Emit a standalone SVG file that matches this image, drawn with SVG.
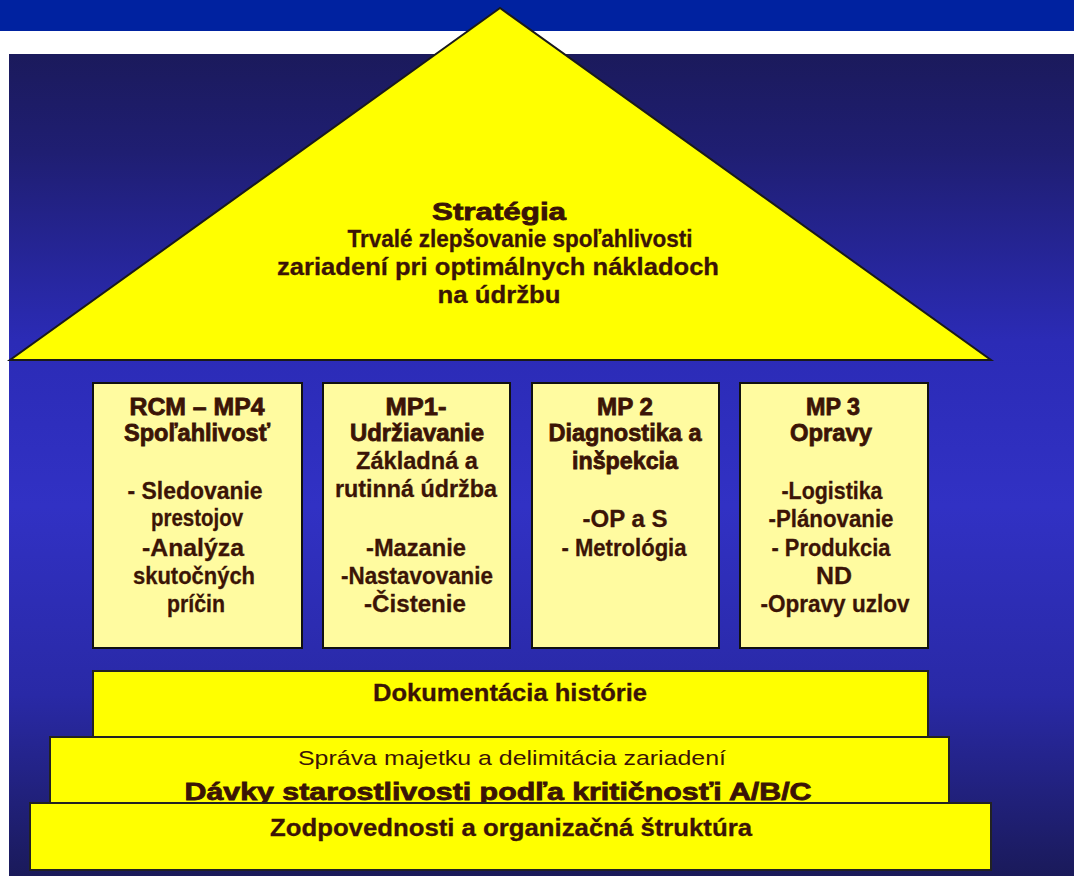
<svg xmlns="http://www.w3.org/2000/svg" width="1077" height="876" viewBox="0 0 1077 876">
  <defs>
    <linearGradient id="panelGrad" x1="0" y1="0" x2="0" y2="1">
      <stop offset="0" stop-color="#1B1A5C"/>
      <stop offset="0.12" stop-color="#1F1E72"/>
      <stop offset="0.35" stop-color="#2B2BB6"/>
      <stop offset="0.55" stop-color="#3131C4"/>
      <stop offset="0.78" stop-color="#2929A6"/>
      <stop offset="1" stop-color="#1A1A5A"/>
    </linearGradient>
    <style>
      .t { font-family: "Liberation Sans Narrow", "Liberation Sans", Arial, sans-serif; fill: #3B1406; text-anchor: middle; }
      .h { font-size: 24px; font-weight: bold; stroke: #3B1406; stroke-width: 0.8; }
      .b { font-size: 24px; font-weight: bold; stroke: #3B1406; stroke-width: 0.3; }
      .pillar { fill: #FFFBA0; stroke: #111; stroke-width: 2; }
      .tier { fill: #FFFF00; stroke: #222; stroke-width: 2; }
    </style>
  </defs>

  <!-- page background -->
  <rect x="0" y="0" width="1077" height="876" fill="#FFFFFF"/>
  <rect x="0" y="0" width="1074" height="31" fill="#0022A0"/>
  <rect x="9" y="54" width="1065" height="822" fill="url(#panelGrad)"/>

  <!-- roof -->
  <g id="roof">
    <polygon points="500,8 10,360 991,360" fill="#FFFF00" stroke="#1A1A1A" stroke-width="2" stroke-linejoin="miter"/>
    <text class="t h" x="499" y="220" font-size="25" textLength="134" lengthAdjust="spacingAndGlyphs">Stratégia</text>
    <text class="t b" x="520" y="247" textLength="345" lengthAdjust="spacingAndGlyphs">Trvalé zlepšovanie spoľahlivosti</text>
    <text class="t b" x="498" y="275" textLength="442" lengthAdjust="spacingAndGlyphs">zariadení pri optimálnych nákladoch</text>
    <text class="t b" x="499" y="303" textLength="123" lengthAdjust="spacingAndGlyphs">na údržbu</text>
  </g>

  <!-- pillars -->
  <g id="pillar-rcm">
    <rect class="pillar" x="93" y="383" width="209" height="265"/>
    <text class="t h" x="197" y="415" textLength="135" lengthAdjust="spacingAndGlyphs">RCM – MP4</text>
    <text class="t h" x="197" y="441" textLength="146" lengthAdjust="spacingAndGlyphs">Spoľahlivosť</text>
    <text class="t b" x="195" y="499" textLength="135" lengthAdjust="spacingAndGlyphs">- Sledovanie</text>
    <text class="t b" x="197" y="526" textLength="92" lengthAdjust="spacingAndGlyphs">prestojov</text>
    <text class="t b" x="193" y="556" textLength="102" lengthAdjust="spacingAndGlyphs">-Analýza</text>
    <text class="t b" x="194" y="584" textLength="122" lengthAdjust="spacingAndGlyphs">skutočných</text>
    <text class="t b" x="196" y="612" textLength="58" lengthAdjust="spacingAndGlyphs">príčin</text>
  </g>

  <g id="pillar-mp1">
    <rect class="pillar" x="323" y="383" width="187" height="265"/>
    <text class="t h" x="416" y="415" textLength="61" lengthAdjust="spacingAndGlyphs">MP1-</text>
    <text class="t h" x="417" y="441" textLength="134" lengthAdjust="spacingAndGlyphs">Udržiavanie</text>
    <text class="t b" x="417" y="469" textLength="122" lengthAdjust="spacingAndGlyphs">Základná a</text>
    <text class="t b" x="416" y="497" textLength="162" lengthAdjust="spacingAndGlyphs">rutinná údržba</text>
    <text class="t b" x="416" y="556" textLength="100" lengthAdjust="spacingAndGlyphs">-Mazanie</text>
    <text class="t b" x="417" y="584" textLength="152" lengthAdjust="spacingAndGlyphs">-Nastavovanie</text>
    <text class="t b" x="415" y="612" textLength="102" lengthAdjust="spacingAndGlyphs">-Čistenie</text>
  </g>

  <g id="pillar-mp2">
    <rect class="pillar" x="532" y="383" width="187" height="265"/>
    <text class="t h" x="625" y="415" textLength="56" lengthAdjust="spacingAndGlyphs">MP 2</text>
    <text class="t h" x="625" y="441" textLength="153" lengthAdjust="spacingAndGlyphs">Diagnostika a</text>
    <text class="t h" x="625" y="469" textLength="106" lengthAdjust="spacingAndGlyphs">inšpekcia</text>
    <text class="t b" x="625" y="527" textLength="85" lengthAdjust="spacingAndGlyphs">-OP a S</text>
    <text class="t b" x="624" y="556" textLength="125" lengthAdjust="spacingAndGlyphs">- Metrológia</text>
  </g>

  <g id="pillar-mp3">
    <rect class="pillar" x="740" y="383" width="188" height="265"/>
    <text class="t h" x="833" y="415" textLength="54" lengthAdjust="spacingAndGlyphs">MP 3</text>
    <text class="t h" x="831" y="441" textLength="82" lengthAdjust="spacingAndGlyphs">Opravy</text>
    <text class="t b" x="832" y="499" textLength="101" lengthAdjust="spacingAndGlyphs">-Logistika</text>
    <text class="t b" x="831" y="527" textLength="125" lengthAdjust="spacingAndGlyphs">-Plánovanie</text>
    <text class="t b" x="831" y="556" textLength="119" lengthAdjust="spacingAndGlyphs">- Produkcia</text>
    <text class="t b" x="834" y="584" textLength="36" lengthAdjust="spacingAndGlyphs">ND</text>
    <text class="t b" x="835" y="612" textLength="149" lengthAdjust="spacingAndGlyphs">-Opravy uzlov</text>
  </g>

  <!-- foundation tiers -->
  <g id="tier-history">
    <rect class="tier" x="93" y="671" width="835" height="66"/>
    <text class="t b" x="510" y="701" textLength="274" lengthAdjust="spacingAndGlyphs">Dokumentácia histórie</text>
  </g>

  <g id="tier-assets">
    <rect class="tier" x="50" y="737" width="899" height="66"/>
    <text class="t" x="512" y="765" font-size="21" textLength="428" lengthAdjust="spacingAndGlyphs">Správa majetku a delimitácia zariadení</text>
    <text class="t h" x="498" y="800" font-size="29" stroke-width="1.2" textLength="627" lengthAdjust="spacingAndGlyphs">Dávky starostlivosti podľa kritičnosťi  A/B/C</text>
  </g>

  <g id="tier-organization">
    <rect class="tier" x="30" y="803" width="961" height="67"/>
    <text class="t b" x="511" y="836" textLength="482" lengthAdjust="spacingAndGlyphs">Zodpovednosti a organizačná štruktúra</text>
  </g>
</svg>
